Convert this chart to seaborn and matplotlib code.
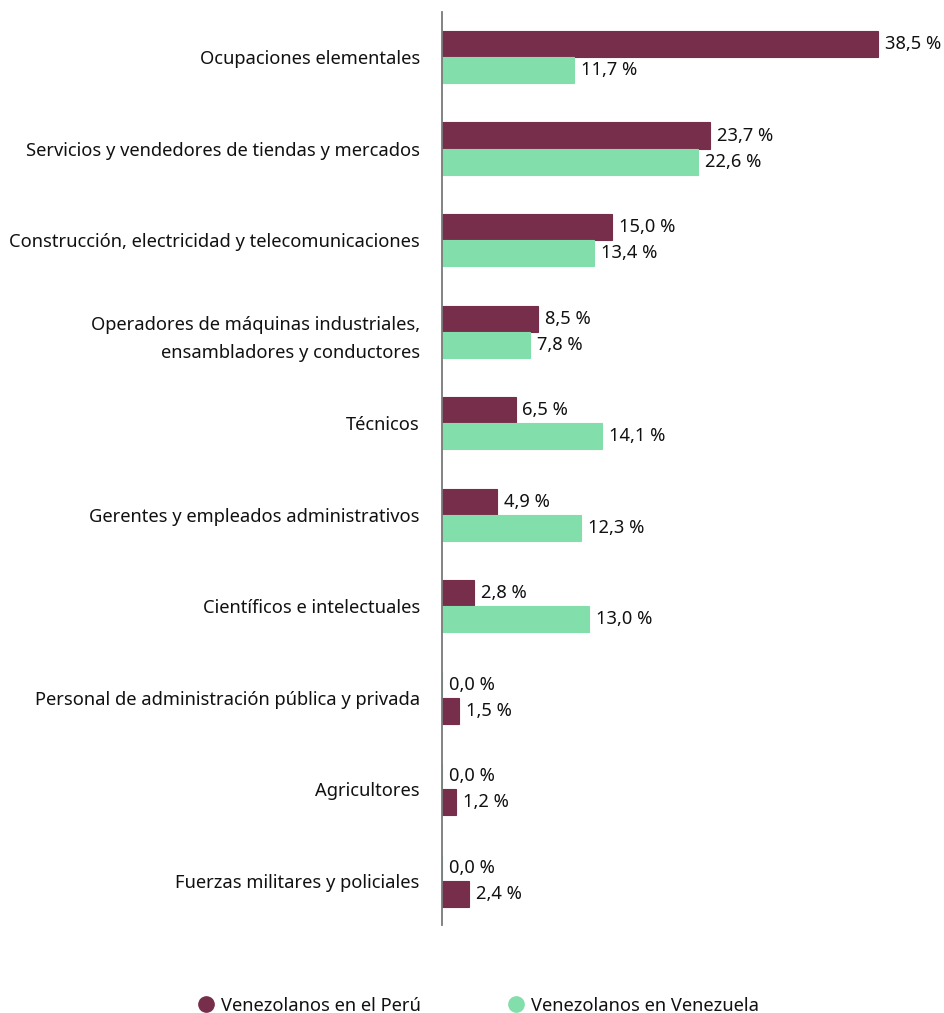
import pandas as pd
import matplotlib.pyplot as plt
import seaborn as sns
from matplotlib.lines import Line2D

# --- Data ---
categorias = [
    "Ocupaciones elementales",
    "Servicios y vendedores de tiendas y mercados",
    "Construcción, electricidad y telecomunicaciones",
    "Operadores de máquinas industriales,\nensambladores y conductores",
    "Técnicos",
    "Gerentes y empleados administrativos",
    "Científicos e intelectuales",
    "Personal de administración pública y privada",
    "Agricultores",
    "Fuerzas militares y policiales",
]
peru = [38.5, 23.7, 15.0, 8.5, 6.5, 4.9, 2.8, 1.5, 1.2, 2.4]
venezuela = [11.7, 22.6, 13.4, 7.8, 14.1, 12.3, 13.0, 0.0, 0.0, 0.0]
# which series sits on the upper bar of each group
serie_arriba = ["peru"] * 7 + ["venezuela"] * 3

SERIES_NAMES = {"peru": "Venezolanos en el Perú", "venezuela": "Venezolanos en Venezuela"}
COLORS = {"peru": "#772E4A", "venezuela": "#82DEAA"}

# --- Long table: one row per bar ---
rows = []
for cat, p, v, top in zip(categorias, peru, venezuela, serie_arriba):
    vals = {"peru": p, "venezuela": v}
    other = "venezuela" if top == "peru" else "peru"
    rows.append({"categoria": cat, "posicion": "arriba", "serie": top, "valor": vals[top]})
    rows.append({"categoria": cat, "posicion": "abajo", "serie": other, "valor": vals[other]})
df = pd.DataFrame(rows)

# --- Style ---
sns.set_style("white")
plt.rcParams["font.family"] = ["Noto Sans", "DejaVu Sans"]
plt.rcParams["text.color"] = "#111111"

fig = plt.figure(figsize=(9.45, 10.13), dpi=100)
ax = fig.add_axes([0.4677, 0.087, 0.527, 0.901])

sns.barplot(data=df, y="categoria", x="valor", hue="posicion",
            hue_order=["arriba", "abajo"], order=categorias, orient="h",
            width=0.57, legend=False, ax=ax, errorbar=None)

# recolour each bar by its series and add value labels
for container, pos in zip(ax.containers, ["arriba", "abajo"]):
    sub = df[df["posicion"] == pos].set_index("categoria").loc[categorias]
    for bar, serie in zip(container, sub["serie"]):
        bar.set_facecolor(COLORS[serie])
        bar.set_edgecolor(COLORS[serie])
        bar.set_linewidth(0.8)
    labels = [f"{v:.1f}".replace(".", ",") + " %" for v in sub["valor"]]
    ax.bar_label(container, labels=labels, padding=5, fontsize=13.2)

ax.set_xlim(0, 44)
ax.set_ylim(9.48, -0.49)
ax.set_xlabel("")
ax.set_ylabel("")
ax.set_xticks([])
ax.tick_params(axis="y", length=0, pad=16, labelsize=13.2, labelcolor="#111111")
for lbl in ax.get_yticklabels():
    lbl.set_linespacing(1.75)
for s in ["top", "right", "bottom"]:
    ax.spines[s].set_visible(False)
ax.spines["left"].set_color("#7a7a7a")
ax.spines["left"].set_linewidth(1.3)

# --- Legend ---
handles = [Line2D([], [], marker="o", linestyle="", markersize=11,
                  markerfacecolor=COLORS[k], markeredgecolor=COLORS[k],
                  label=SERIES_NAMES[k]) for k in ["peru", "venezuela"]]
fig.legend(handles=handles, loc="center", bbox_to_anchor=(0.506, 0.007),
           ncol=2, frameon=False, fontsize=13.2, handlelength=1.0,
           handletextpad=0.3, columnspacing=4.7)

fig.savefig("out.png", dpi=100)
